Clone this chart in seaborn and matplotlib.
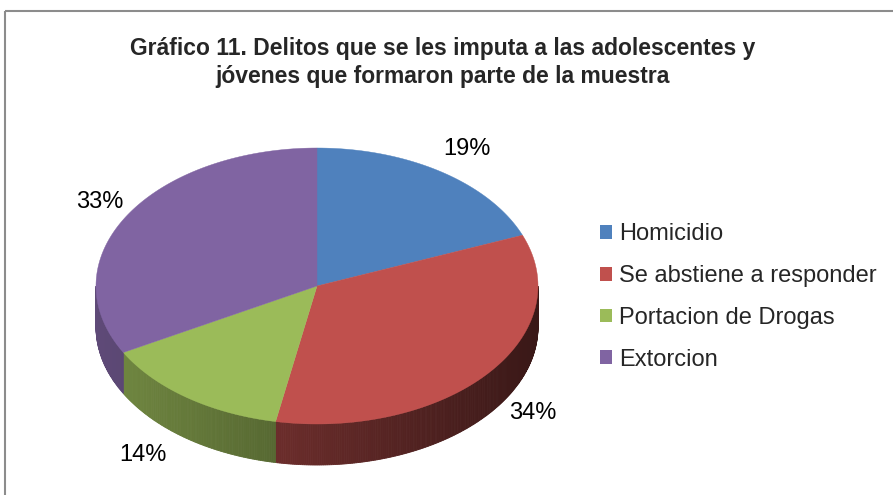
import matplotlib
matplotlib.use('Agg')
import numpy as np
import matplotlib.pyplot as plt
from matplotlib.patches import Polygon, Patch, Rectangle
from matplotlib import font_manager
import seaborn as sns

sns.set_theme(style='white')

# ── Data ────────────────────────────────────────────────────────────────────
categories = ['Homicidio', 'Se abstiene a responder', 'Portacion de Drogas', 'Extorcion']
values = [19, 34, 14, 33]
colors = ['#4f81bd', '#c0504d', '#9bbb59', '#8064a2']
title = 'Gráfico 11. Delitos que se les imputa a las adolescentes y\njóvenes que formaron parte de la muestra'

names = {f.name for f in font_manager.fontManager.ttflist}
BASE = 'Liberation Sans' if 'Liberation Sans' in names else 'DejaVu Sans'
plt.rcParams['font.family'] = [BASE, 'DejaVu Sans']

W, H = 893, 495
fig = plt.figure(figsize=(W / 100, H / 100), dpi=100)
ax = fig.add_axes([0, 0, 1, 1])
ax.set_xlim(0, W)
ax.set_ylim(H, 0)
ax.axis('off')

# frame
ax.add_patch(Rectangle((5, 11), W + 10, H, fill=False, edgecolor='#8c8c8c', lw=1.5))

# ── 3D pie geometry (pixel space) ───────────────────────────────────────────
cx, cy, rx, ry, depth = 317, 286, 221, 138, 41

def pt(a, dy=0):
    r = np.radians(a)
    return cx + rx * np.cos(r), cy - ry * np.sin(r) + dy

def shade(c, f):
    rgb = np.array(matplotlib.colors.to_rgb(c))
    return tuple(np.clip(rgb * f, 0, 1))

fracs = np.array(values) / sum(values)
starts = 90 - 360 * np.concatenate([[0], np.cumsum(fracs)[:-1]])
ends = starts - 360 * fracs

# side walls (front half only, angles between -180 and 0)
for s, e, c in zip(starts, ends, colors):
    for lo, hi in [(e, s), (e + 360, s + 360), (e - 360, s - 360)]:
        a0, a1 = max(lo, -180), min(hi, 0)
        if a1 <= a0:
            continue
        steps = np.linspace(a0, a1, max(2, int((a1 - a0) * 2) + 1))
        for b0, b1 in zip(steps[:-1], steps[1:]):
            p0, p1 = pt(b0), pt(b1)
            q0, q1 = pt(b0, depth), pt(b1, depth)
            f = 0.52 - 0.22 * np.cos(np.radians((b0 + b1) / 2))
            ax.add_patch(Polygon([p0, p1, q1, q0], closed=True,
                                 facecolor=shade(c, f), edgecolor=shade(c, f), lw=0.6))

# top face
for s, e, c in zip(starts, ends, colors):
    arc = [pt(a) for a in np.linspace(s, e, 200)]
    ax.add_patch(Polygon([(cx, cy)] + arc, closed=True, facecolor=c, edgecolor=c, lw=0.3))

# percentage labels, near edge placed just outside the pie
for s, e, v in zip(starts, ends, values):
    m = np.radians((s + e) / 2)
    k = 1.02 + 0.17 * max(0.0, -np.sin(m))
    x = cx + rx * k * np.cos(m)
    y = cy - ry * 1.2 * np.sin(m)
    if np.sin(m) < 0:
        y += depth * 1.3 * np.sin(m) ** 2
    ax.text(x, y, f'{v}%', ha='left' if np.cos(m) > 0 else 'right', va='center',
            fontsize=17, color='#000000')

# title
fig.text(0.496, 0.873, title, ha='center', va='center', fontsize=16.5,
         fontweight='bold', linespacing=1.27)

# legend
handles = [Patch(facecolor=c, edgecolor='none', label=l) for c, l in zip(colors, categories)]
fig.legend(handles=handles, loc='center left', bbox_to_anchor=(0.661, 0.400),
           frameon=False, fontsize=17, handlelength=0.52, handleheight=0.52,
           handletextpad=0.3, labelspacing=0.84, borderaxespad=0)

plt.savefig('out.png', dpi=100)
plt.close()
